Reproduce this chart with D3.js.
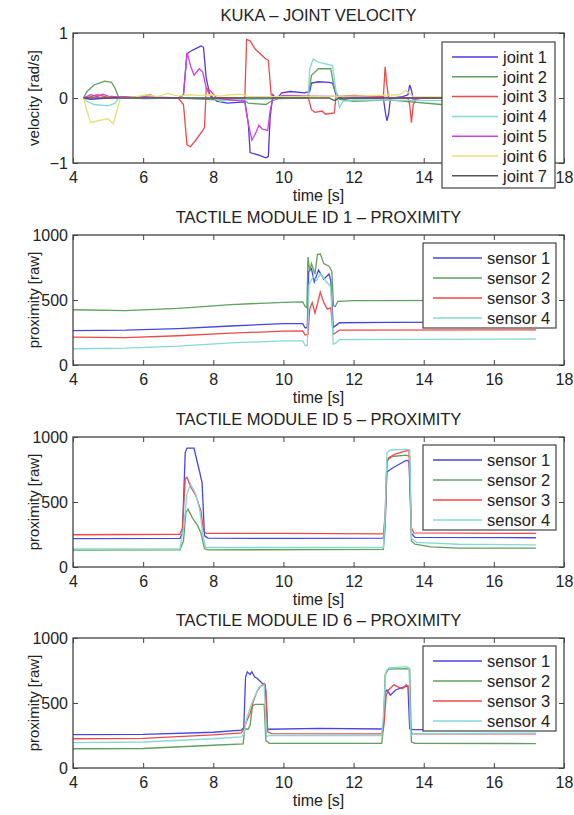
<!DOCTYPE html>
<html>
<head>
<meta charset="utf-8">
<script src="https://cdn.jsdelivr.net/npm/d3@7"></script>
<style>
  body { margin: 0; background: #fff; }
  svg { font-family: "Liberation Sans", Arial, sans-serif; }
  .axis text { font-size: 16px; fill: #222; }
  .axis line { stroke: #444; }
  .axis path { display: none; }
</style>
</head>
<body>
<script>
// time ticks shared by all panels
var timeTicks = [4, 6, 8, 10, 12, 14, 16, 18]

// KUKA joint velocity [rad/s], pairs of [time, value]
var joint1 = [[4.3,0],[4.5,-0.02],[5.0,0.0],[5.3,0.01],[6,0],[7.0,0],[7.15,0.05],[7.25,0.68],[7.35,0.72],[7.5,0.76],[7.65,0.8],[7.72,0.78],[7.8,0.3],[7.9,0.05],[8.1,-0.05],[8.4,-0.08],[8.9,-0.06],[9.0,-0.4],[9.05,-0.84],[9.3,-0.88],[9.5,-0.92],[9.57,-0.9],[9.62,-0.3],[9.7,0.05],[9.8,-0.02],[9.95,0.08],[10.2,0.1],[10.6,0.08],[10.75,0.1],[10.8,0.23],[11.0,0.25],[11.3,0.24],[11.4,0.23],[11.5,0.05],[11.7,-0.02],[12.0,0],[12.85,0],[12.9,-0.2],[12.95,-0.35],[13.0,-0.25],[13.05,0],[13.4,0.02],[13.55,0.05],[13.6,0.2],[13.65,0.12],[13.7,-0.02],[14,0],[17.2,0]]
var joint2 = [[4.3,0],[4.4,0.1],[4.6,0.2],[4.9,0.26],[5.1,0.24],[5.2,0.15],[5.3,0.01],[6,-0.01],[7,0],[8.1,-0.03],[8.9,-0.04],[9.0,-0.08],[9.5,-0.1],[9.65,-0.05],[10.0,0.02],[10.7,0.0],[10.8,0.35],[11.0,0.45],[11.35,0.45],[11.45,0.15],[11.6,-0.02],[12,-0.05],[13,-0.03],[14.5,-0.1],[17.2,-0.05]]
var joint3 = [[4.3,0],[4.5,0.02],[4.7,0.05],[5.0,0.01],[5.5,0],[6.0,0.02],[6.2,0.05],[6.4,0],[7.0,0],[7.15,-0.1],[7.25,-0.72],[7.35,-0.75],[7.5,-0.65],[7.7,-0.5],[7.75,-0.45],[7.8,0.15],[7.9,0.12],[8.1,0],[8.9,0],[8.95,0.9],[9.05,0.88],[9.2,0.75],[9.4,0.65],[9.5,0.6],[9.57,0.58],[9.65,0.05],[9.8,-0.02],[10.0,0.03],[10.7,0.02],[10.8,-0.18],[10.9,-0.22],[11.1,-0.2],[11.2,-0.25],[11.45,-0.23],[11.5,0.02],[12.0,0.04],[12.85,0.02],[12.9,0.48],[12.95,0.2],[13.0,0.0],[13.55,0],[13.6,-0.1],[13.65,-0.38],[13.7,-0.1],[13.8,0],[17.2,0]]
var joint4 = [[4.3,0],[4.4,-0.05],[4.6,-0.1],[5.0,-0.12],[5.2,-0.08],[5.3,0],[7,0],[8.0,0],[8.2,-0.05],[8.5,-0.03],[10.7,0],[10.75,0.45],[10.85,0.6],[11.0,0.55],[11.4,0.5],[11.5,0.1],[11.6,-0.15],[11.7,-0.05],[12,-0.03],[17.2,-0.05]]
var joint5 = [[4.3,0],[4.5,0.05],[4.7,0.02],[4.85,0.06],[5.0,0.03],[5.2,0.02],[6,0.02],[7.0,0],[7.15,0.05],[7.25,0.7],[7.35,0.5],[7.45,0.35],[7.6,0.45],[7.7,0.4],[7.8,0.15],[7.95,0],[8.9,-0.05],[9.0,-0.4],[9.1,-0.65],[9.2,-0.55],[9.3,-0.42],[9.4,-0.48],[9.55,-0.5],[9.62,-0.2],[9.7,0],[10,0.04],[10.8,0.03],[12,0.02],[13.5,0],[17.2,0]]
var joint6 = [[4.3,0],[4.4,-0.2],[4.5,-0.38],[4.7,-0.35],[5.0,-0.32],[5.15,-0.4],[5.25,-0.2],[5.35,0],[5.8,0.02],[6.1,0.05],[6.4,0.02],[6.7,0.07],[7.0,0.03],[7.3,0.05],[7.6,0.04],[7.9,0.05],[8.2,0.03],[8.5,0.05],[8.8,0.06],[9.0,0.02],[10,0.02],[12,0.03],[13.3,0.05],[13.5,0.12],[13.7,0.02],[17.2,0]]
var joint7 = [[4.3,0],[11.3,0],[11.45,-0.04],[11.6,0],[17.2,0]]

// tactile module 1 proximity [raw]
var mod1Sensor1 = [[4,265],[5.5,268],[7,280],[8.5,300],[10,318],[10.55,318],[10.62,285],[10.68,290],[10.72,720],[10.8,740],[10.88,640],[11.0,730],[11.15,660],[11.3,700],[11.35,650],[11.42,290],[11.5,305],[11.6,325],[13,328],[17.2,330]]
var mod1Sensor2 = [[4,425],[5.5,418],[7,435],[8.5,465],[10,482],[10.55,485],[10.62,450],[10.67,440],[10.7,830],[10.75,720],[10.8,780],[10.9,700],[10.97,850],[11.05,855],[11.15,780],[11.3,760],[11.38,720],[11.43,455],[11.48,450],[11.55,490],[12,495],[17.2,498]]
var mod1Sensor3 = [[4,215],[5.5,210],[7,225],[8.5,245],[10,260],[10.55,262],[10.62,230],[10.7,235],[10.75,430],[10.82,480],[10.9,400],[10.97,470],[11.05,560],[11.15,480],[11.25,430],[11.35,440],[11.42,235],[11.5,250],[11.6,268],[17.2,270]]
var mod1Sensor4 = [[4,125],[5.5,130],[7,145],[8.5,170],[10,185],[10.55,185],[10.62,150],[10.68,150],[10.73,620],[10.85,680],[10.95,650],[11.05,700],[11.2,650],[11.35,600],[11.42,160],[11.5,170],[11.6,195],[17.2,200]]

// tactile module 5 proximity [raw]
var mod5Sensor1 = [[4,218],[7.05,220],[7.12,260],[7.2,880],[7.25,915],[7.45,915],[7.55,800],[7.62,720],[7.68,650],[7.75,240],[7.85,222],[10,220],[12.85,222],[12.9,330],[12.95,730],[13.1,760],[13.3,790],[13.5,820],[13.58,815],[13.65,260],[13.75,228],[17.2,225]]
var mod5Sensor2 = [[4,130],[7.05,132],[7.15,200],[7.22,420],[7.28,445],[7.4,380],[7.55,320],[7.65,260],[7.75,140],[7.85,132],[12.85,135],[12.9,300],[12.95,820],[13.1,850],[13.5,860],[13.6,850],[13.65,200],[13.75,175],[14.2,155],[15,145],[17.2,145]]
var mod5Sensor3 = [[4,248],[7.05,252],[7.12,300],[7.2,680],[7.25,690],[7.35,620],[7.5,550],[7.65,430],[7.72,280],[7.8,258],[10,258],[12.85,255],[12.9,400],[12.95,800],[13.0,840],[13.2,870],[13.45,890],[13.58,900],[13.65,300],[13.72,262],[17.2,258]]
var mod5Sensor4 = [[4,140],[7.05,142],[7.15,300],[7.25,560],[7.35,640],[7.5,560],[7.62,430],[7.7,250],[7.78,150],[12.85,150],[12.9,400],[12.95,880],[13.05,900],[13.5,905],[13.6,900],[13.65,220],[13.8,190],[15,175],[17.2,170]]

// tactile module 6 proximity [raw]
var mod6Sensor1 = [[4,256],[6,258],[8,275],[8.8,292],[8.87,310],[8.92,700],[8.97,740],[9.05,720],[9.1,740],[9.18,700],[9.25,690],[9.4,650],[9.48,640],[9.55,300],[9.6,298],[11,305],[12.8,300],[12.85,320],[12.9,580],[12.95,600],[13.05,560],[13.2,600],[13.4,620],[13.55,630],[13.6,300],[13.7,295],[17.2,295]]
var mod6Sensor2 = [[4,148],[6,150],[8,175],[8.85,185],[8.9,300],[9.0,300],[9.05,330],[9.12,480],[9.2,490],[9.45,490],[9.5,210],[9.6,190],[11,190],[12.8,190],[12.85,300],[12.9,720],[13.0,760],[13.5,765],[13.6,760],[13.65,200],[13.75,190],[17.2,188]]
var mod6Sensor3 = [[4,225],[6,228],[8,255],[8.8,270],[8.87,300],[8.95,360],[9.05,420],[9.15,520],[9.25,590],[9.35,630],[9.45,650],[9.5,600],[9.55,280],[9.65,265],[12.8,262],[12.85,300],[12.88,380],[12.93,560],[13.0,600],[13.15,640],[13.3,620],[13.4,610],[13.5,640],[13.58,620],[13.63,270],[13.7,262],[17.2,262]]
var mod6Sensor4 = [[4,195],[6,200],[8,225],[8.8,240],[8.87,260],[8.95,380],[9.1,500],[9.3,620],[9.45,640],[9.52,240],[9.6,250],[12.8,250],[12.85,400],[12.92,740],[13.0,770],[13.5,780],[13.58,770],[13.63,250],[13.7,265],[17.2,268]]

var jointNames = ['joint 1', 'joint 2', 'joint 3', 'joint 4', 'joint 5', 'joint 6', 'joint 7']
var sensorNames = ['sensor 1', 'sensor 2', 'sensor 3', 'sensor 4']
var jointColors = ['#5038e0', '#5f9f5f', '#f04848', '#86d8d0', '#d040e0', '#e6e07a', '#555555']
var sensorColors = ['#4646e0', '#5f9f5f', '#f04848', '#86d8d8']

var W = 574, H = 815
var left = 73, right = 564, ph = 130
var svg = d3.select('body').append('svg').attr('width', W).attr('height', H)

var xScale = d3.scaleLinear().domain([4, 18]).range([left, right])
var fmt = d3.format('d')

function drawPanel(top, title, yLabel, yDomain, yTicks, series, names, colors, legend) {
  var bottom = top + ph
  var yScale = d3.scaleLinear().domain(yDomain).range([bottom, top])
  var g = svg.append('g')

  // series lines
  var line = d3.line()
    .x(function (d) { return xScale(d[0]) })
    .y(function (d) { return yScale(d[1]) })
  g.selectAll('path.series')
    .data(series)
    .enter()
    .append('path')
    .attr('class', 'series')
    .attr('d', line)
    .attr('fill', 'none')
    .attr('stroke', function (d, i) { return colors[i] })
    .attr('stroke-width', 1.3)

  // axes with inward ticks
  g.append('g').attr('class', 'axis')
    .attr('transform', 'translate(0,' + bottom + ')')
    .call(d3.axisBottom(xScale).tickValues(timeTicks).tickSize(-5).tickPadding(9).tickFormat(fmt))
  g.append('g').attr('class', 'axis')
    .attr('transform', 'translate(0,' + top + ')')
    .call(d3.axisTop(xScale).tickValues(timeTicks).tickSize(-5).tickFormat(''))
  g.append('g').attr('class', 'axis')
    .attr('transform', 'translate(' + left + ',0)')
    .call(d3.axisLeft(yScale).tickValues(yTicks).tickSize(-5).tickPadding(5)
      .tickFormat(function (d) { return d < 0 ? '\u2212' + fmt(-d) : fmt(d) }))
  g.append('g').attr('class', 'axis')
    .attr('transform', 'translate(' + right + ',0)')
    .call(d3.axisRight(yScale).tickValues(yTicks).tickSize(-5).tickFormat(''))

  g.append('rect')
    .attr('x', left).attr('y', top)
    .attr('width', right - left).attr('height', ph)
    .attr('fill', 'none').attr('stroke', '#444').attr('stroke-width', 1.3)

  // labels
  g.append('text')
    .attr('x', (left + right) / 2).attr('y', top - 12)
    .attr('text-anchor', 'middle').style('font-size', '16.5px').attr('fill', '#222')
    .text(title)
  g.append('text')
    .attr('x', (left + right) / 2).attr('y', bottom + 38)
    .attr('text-anchor', 'middle').style('font-size', '16px').attr('fill', '#222')
    .text('time [s]')
  g.append('text')
    .attr('transform', 'translate(39,' + (top + bottom) / 2 + ') rotate(-90)')
    .attr('text-anchor', 'middle').style('font-size', '15px').attr('fill', '#222')
    .text(yLabel)

  // legend
  var lg = g.append('g')
  lg.append('rect')
    .attr('x', legend.x).attr('y', legend.y)
    .attr('width', legend.w).attr('height', legend.h)
    .attr('fill', '#fff').attr('stroke', '#444').attr('stroke-width', 1.2)
  var items = lg.selectAll('g.item')
    .data(names)
    .enter()
    .append('g')
    .attr('class', 'item')
    .attr('transform', function (d, i) { return 'translate(0,' + (legend.y + legend.first + i * legend.step) + ')' })
  items.append('line')
    .attr('x1', legend.x + legend.lx1).attr('x2', legend.x + legend.lx2)
    .attr('y1', 0).attr('y2', 0)
    .attr('stroke', function (d, i) { return colors[i] })
    .attr('stroke-width', 1.5)
  items.append('text')
    .attr('x', legend.x + legend.tx).attr('y', 0).attr('dy', '0.35em')
    .style('font-size', '16.5px').attr('fill', '#222')
    .text(function (d) { return d })
}

drawPanel(33, 'KUKA \u2013 JOINT VELOCITY', 'velocity [rad/s]', [-1, 1], [-1, 0, 1],
  [joint1, joint2, joint3, joint4, joint5, joint6, joint7], jointNames, jointColors,
  { x: 442, y: 42, w: 113, h: 146, first: 15, step: 19.8, lx1: 10, lx2: 56, tx: 61 })

var sensorLegend = function (top) {
  return { x: 423, y: top + 8, w: 133, h: 85, first: 15, step: 20, lx1: 10, lx2: 59, tx: 64 }
}

drawPanel(235, 'TACTILE MODULE ID 1 \u2013 PROXIMITY', 'proximity [raw]', [0, 1000], [0, 500, 1000],
  [mod1Sensor1, mod1Sensor2, mod1Sensor3, mod1Sensor4], sensorNames, sensorColors, sensorLegend(235))
drawPanel(437, 'TACTILE MODULE ID 5 \u2013 PROXIMITY', 'proximity [raw]', [0, 1000], [0, 500, 1000],
  [mod5Sensor1, mod5Sensor2, mod5Sensor3, mod5Sensor4], sensorNames, sensorColors, sensorLegend(437))
drawPanel(638, 'TACTILE MODULE ID 6 \u2013 PROXIMITY', 'proximity [raw]', [0, 1000], [0, 500, 1000],
  [mod6Sensor1, mod6Sensor2, mod6Sensor3, mod6Sensor4], sensorNames, sensorColors, sensorLegend(638))
</script>
</body>
</html>
